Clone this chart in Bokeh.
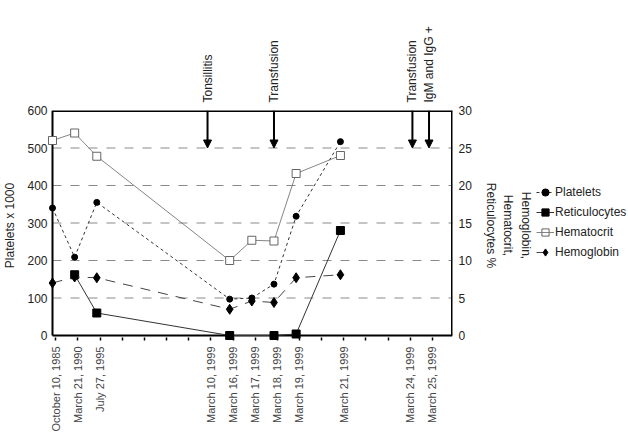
from math import pi

from bokeh.plotting import figure
from bokeh.layouts import row
from bokeh.models import (Range1d, LinearAxis, FixedTicker, CustomJSTickFormatter,
                          Arrow, NormalHead, Legend, LegendItem)
from bokeh.embed import file_html
from bokeh.resources import INLINE

FONT = "Liberation Sans"

# Sampling dates, one evenly spaced slot each (blank slots are unlabelled ticks)
date_labels = ["October 10, 1985", "March 21, 1990", "July 27, 1995", "", "", "", "",
               "March 10, 1999", "March 16, 1999", "March 17, 1999", "March 18, 1999",
               "March 19, 1999", "", "March 21, 1999", "", "", "March 24, 1999",
               "March 25, 1999"]

# Platelets (x 1000), left axis
platelet_slots = [0, 1, 2, 8, 9, 10, 11, 13]
platelets = [340, 209, 355, 97, 100, 137, 318, 517]

# Reticulocytes %, right axis
retic_slots = [1, 2, 8, 10, 11, 13]
reticulocytes = [8.1, 3.0, 0.0, 0.0, 0.2, 14.0]

# Hematocrit, right axis
hct_slots = [0, 1, 2, 8, 9, 10, 11, 13]
hematocrit = [26.0, 27.0, 23.9, 10.0, 12.7, 12.6, 21.6, 24.0]

# Hemoglobin, right axis
hb_slots = [0, 1, 2, 8, 9, 10, 11, 13]
hemoglobin = [7.0, 7.8, 7.7, 3.5, 4.6, 4.4, 7.7, 8.1]

# Clinical events marked above the chart
events = ["Tonsillitis", "Transfusion", "Transfusion", "IgM and IgG +"]
event_slots = [7, 10, 16.25, 17.0]

left_ticks = [0, 100, 200, 300, 400, 500, 600]
right_ticks = [0, 5, 10, 15, 20, 25, 30]
grid_levels = [100, 200, 300, 400, 500]

PLT_MAX = 600
PCT_MAX = 30
X_END = 18.06          # right edge of the box, in slot units
TICK_SHIFT = 0.15      # date ticks sit a little right of their samples
PAD_X = 0.2257         # room left of the first slot so its markers are not clipped
PAD_Y = 13.33          # room below zero (platelet units) for markers sitting on zero

p = figure(frame_width=405, frame_height=230, output_backend="svg",
           toolbar_location=None,
           x_range=Range1d(-PAD_X, X_END), y_range=Range1d(-PAD_Y, PLT_MAX),
           min_border_left=47, min_border_right=84, min_border_top=110,
           min_border_bottom=101, background_fill_color="white")
p.outline_line_color = None
p.extra_y_ranges = {"pct": Range1d(-PAD_Y * PCT_MAX / PLT_MAX, PCT_MAX)}

# Bottom axis: date labels with small tick marks
p.xaxis.ticker = FixedTicker(ticks=[i + TICK_SHIFT for i in range(len(date_labels))])
p.xaxis.formatter = CustomJSTickFormatter(
    args=dict(labels=date_labels, shift=TICK_SHIFT),
    code="const l = labels[Math.round(tick - shift)]; return l ? l : '';")
p.xaxis.major_label_orientation = pi / 2
p.xaxis.major_tick_out = 0
p.xaxis.major_tick_in = 3
p.xaxis.major_tick_line_width = 1.5
p.xaxis.minor_tick_line_color = None
p.xaxis.axis_line_color = None
p.xaxis.major_label_standoff = 6

# Left axis: platelets
p.yaxis.ticker = FixedTicker(ticks=left_ticks)
p.yaxis.axis_label = "Platelets x 1000"
p.yaxis.axis_label_standoff = 7
p.yaxis.axis_line_color = None
p.yaxis.major_tick_out = 0
p.yaxis.major_tick_in = 0
p.yaxis.minor_tick_line_color = None
p.yaxis.major_label_standoff = 0

# Right axis: percentages
right = LinearAxis(y_range_name="pct", ticker=FixedTicker(ticks=right_ticks),
                   axis_label="Hemoglobin,\nHematocrit,\nReticulocytes %")
right.axis_line_color = None
right.major_tick_out = 0
right.major_tick_in = 0
right.minor_tick_line_color = None
right.major_label_standoff = 6
right.axis_label_standoff = 9
right.axis_label_text_line_height = 1.25
p.add_layout(right, "right")

# Top axis carries the event captions
top = LinearAxis(ticker=FixedTicker(ticks=event_slots),
                 formatter=CustomJSTickFormatter(
                     args=dict(names=events, slots=event_slots),
                     code="for (let i = 0; i < slots.length; i++) {"
                          " if (Math.abs(tick - slots[i]) < 1e-6) return names[i]; }"
                          " return '';"))
top.major_label_orientation = pi / 2
top.axis_line_color = None
top.major_tick_out = 0
top.major_tick_in = 0
top.major_tick_line_color = None
top.minor_tick_line_color = None
top.major_label_standoff = 8
p.add_layout(top, "above")

for ax in [p.xaxis[0], p.yaxis[0], right, top]:
    ax.major_label_text_font = FONT
    ax.major_label_text_font_size = "12px"
    ax.major_label_text_color = "#222222"
    ax.axis_label_text_font = FONT
    ax.axis_label_text_font_size = "12px"
    ax.axis_label_text_font_style = "normal"
    ax.axis_label_text_color = "#222222"

# Dashed reference lines across the box
p.xgrid.visible = False
p.ygrid.visible = False
p.segment(x0=[0] * len(grid_levels), y0=grid_levels,
          x1=[X_END] * len(grid_levels), y1=grid_levels,
          line_color="#8a8a8a", line_width=1, line_dash="9 9")

# Box around the data area
p.segment(x0=[0, 0], y0=[0, 0], x1=[0, X_END], y1=[PLT_MAX, 0],
          line_color="black", line_width=2)
p.segment(x0=[0, X_END], y0=[PLT_MAX, 0], x1=[X_END, X_END], y1=[PLT_MAX, PLT_MAX],
          line_color="black", line_width=3)

# Series styles, shared with the legend swatches
styles = {
    "Platelets": (dict(line_color="#333333", line_width=1, line_dash="3 3"),
                  dict(marker="circle", size=6, fill_color="black", line_color="black")),
    "Reticulocytes": (dict(line_color="#333333", line_width=1),
                      dict(marker="square", size=8, fill_color="black",
                           line_color="black")),
    "Hematocrit": (dict(line_color="#777777", line_width=0.9),
                   dict(marker="square", size=8, fill_color="white",
                        line_color="#555555", line_width=0.9)),
    "Hemoglobin": (dict(line_color="#444444", line_width=1, line_dash="10 8"),
                   dict(marker="diamond", size=10, fill_color="black",
                        line_color="black")),
}

series = [("Platelets", platelet_slots, platelets, "default"),
          ("Reticulocytes", retic_slots, reticulocytes, "pct"),
          ("Hematocrit", hct_slots, hematocrit, "pct"),
          ("Hemoglobin", hb_slots, hemoglobin, "pct")]

for name, xs, ys, rng in series:
    line_style, marker_style = styles[name]
    p.line(xs, ys, y_range_name=rng, **line_style)
    p.scatter(xs, ys, y_range_name=rng, **marker_style)

# Event arrows from the top of the box down to the 500 line
for slot in event_slots:
    p.add_layout(Arrow(end=NormalHead(size=8, fill_color="black", line_color="black"),
                       x_start=slot, y_start=PLT_MAX, x_end=slot, y_end=500,
                       line_width=2, line_color="black"))

# Legend panel to the right of the chart; its renderers hold the series but
# the view range lies outside them, so only the legend swatches show.
lg = figure(width=92, height=441, output_backend="svg", toolbar_location=None,
            x_axis_location=None, y_axis_location=None, min_border=0,
            x_range=Range1d(100, 101), y_range=Range1d(0, 1))
lg.outline_line_color = None
lg.grid.visible = False

items = []
for name, xs, ys, _ in series:
    line_style, marker_style = styles[name]
    ln = lg.line(xs, ys, **line_style)
    mk = lg.scatter(xs, ys, **marker_style)
    rs = [mk, ln] if name == "Hematocrit" else [ln, mk]
    items.append(LegendItem(label=name, renderers=rs))

legend = Legend(items=items, location=(0, 78))
legend.glyph_width = 18
legend.glyph_height = 20
legend.label_height = 20
legend.label_standoff = 1
legend.spacing = 0
legend.padding = 0
legend.margin = 0
legend.border_line_alpha = 0
legend.background_fill_alpha = 0
legend.label_text_font = FONT
legend.label_text_font_size = "12px"
legend.label_text_color = "#222222"
lg.add_layout(legend, "center")

layout = row(p, lg)
open("out.html", "w").write(file_html(layout, INLINE))
